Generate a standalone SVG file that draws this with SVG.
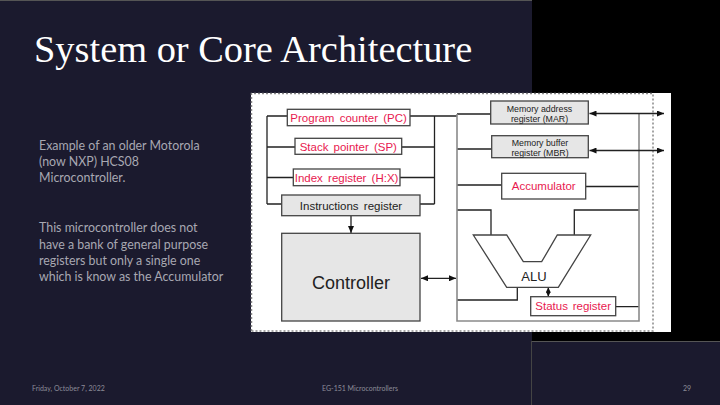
<svg xmlns="http://www.w3.org/2000/svg" width="720" height="405" viewBox="0 0 720 405">
<style>
.box{stroke:#444;stroke-width:1.3}
.w{fill:#fff}
.g{fill:#e6e6e6}
.red{fill:#e8194f;font-family:"Liberation Sans",Arial,sans-serif;font-size:11.5px;text-anchor:middle}
.dk{fill:#222;font-family:"Liberation Sans",Arial,sans-serif;text-anchor:middle}
.ln{stroke:#222;stroke-width:1.3;fill:none}
.bus{stroke:#8a8a8a;stroke-width:1.6;fill:none}
.side{fill:#a8a8b2;font-family:Lato,"Open Sans",sans-serif;font-size:12.4px}
.foot{fill:#8c8c98;font-family:Lato,"Open Sans",sans-serif;font-size:7px}
</style>
<defs>
<marker id="ah" markerUnits="userSpaceOnUse" markerWidth="8" markerHeight="6" refX="7" refY="3" orient="auto-start-reverse">
<path d="M0,0 L7,3 L0,6 z" fill="#111"/>
</marker>
<marker id="ahs" markerUnits="userSpaceOnUse" markerWidth="6" markerHeight="5" refX="5" refY="2.5" orient="auto-start-reverse">
<path d="M0,0 L5,2.5 L0,5 z" fill="#111"/>
</marker>
</defs>
<rect x="0" y="0" width="720" height="405" fill="#1b1a2e"/>
<rect x="532" y="0" width="188" height="341" fill="#000"/>
<line x1="0" y1="0.5" x2="532" y2="0.5" stroke="#555" stroke-width="1"/>
<line x1="531.5" y1="341" x2="531.5" y2="405" stroke="#444" stroke-width="1"/>
<line x1="532" y1="341.5" x2="720" y2="341.5" stroke="#555" stroke-width="1"/>
<g id="title"><text x="34" y="62" fill="#fff" font-family="Liberation Serif,'Times New Roman',serif" font-size="38.4">System or Core Architecture</text></g>
<g id="sidetext">
<text class="side" x="39" y="150">Example of an older Motorola</text>
<text class="side" x="39" y="166">(now NXP) HCS08</text>
<text class="side" x="39" y="182">Microcontroller.</text>
<text class="side" x="39" y="232">This microcontroller does not</text>
<text class="side" x="39" y="248.5">have a bank of general purpose</text>
<text class="side" x="39" y="265">registers but only a single one</text>
<text class="side" x="39" y="281">which is know as the Accumulator</text>
</g>
<g id="footer">
<text class="foot" x="32" y="391">Friday, October 7, 2022</text>
<text class="foot" x="360" y="391" text-anchor="middle">EG-151 Microcontrollers</text>
<text class="foot" x="683" y="391">29</text>
</g>
<g id="picture">
<rect x="251" y="93" width="420" height="239" fill="#fff"/>
<path d="M251.5,331 V93.5 H653 V331 H251.5" fill="none" stroke="#888" stroke-width="1.5" stroke-dasharray="2,2"/>
</g>
<g id="connectors">
<path class="ln" d="M267,116 V204 M267,116 H287 M267,147 H295 M267,177.5 H293 M267,204 H282"/>
<path class="ln" d="M434.5,116 V204 M410,116 H457 M402,147 H434.5 M400,177.5 H434.5 M420,204 H434.5"/>
<path class="ln" d="M457,114 H491 M457,149 H492 M457,185 H502 M586,186.5 H639 M457,210 H491 V235 M639,210 H574.3 V235 M517.3,287.3 V300 H457 M616,306.7 H639"/>
<path class="bus" d="M457,114 V321 H639 V113"/>
<line class="ln" x1="589.5" y1="113.5" x2="664" y2="113.5" marker-start="url(#ah)" marker-end="url(#ah)"/>
<line class="ln" x1="589.5" y1="150.5" x2="664" y2="150.5" marker-start="url(#ah)" marker-end="url(#ah)"/>
<line class="ln" x1="351" y1="216" x2="351" y2="233" marker-end="url(#ah)"/>
<line class="ln" x1="421" y1="278.3" x2="456" y2="278.3" marker-start="url(#ah)" marker-end="url(#ah)"/>
<line class="ln" x1="548.3" y1="287.5" x2="548.3" y2="296.5" marker-start="url(#ahs)" marker-end="url(#ahs)"/>
</g>
<g id="pc"><rect class="box w" x="287.3" y="109.3" width="122.7" height="16.4"/><text class="red" x="348.6" y="121.8" word-spacing="2">Program counter (PC)</text></g>
<g id="sp"><rect class="box w" x="295" y="138.3" width="106.7" height="16"/><text class="red" x="348.3" y="150.6" word-spacing="2">Stack pointer (SP)</text></g>
<g id="ix"><rect class="box w" x="293.3" y="169" width="106.7" height="16.7"/><text class="red" x="346.6" y="181.6" word-spacing="2">Index register (H:X)</text></g>
<g id="ir"><rect class="box g" x="281.7" y="195" width="138.3" height="20.7"/><text class="dk" x="351" y="209.5" font-size="11.5" word-spacing="2">Instructions register</text></g>
<g id="controller"><rect class="box g" x="281.7" y="233.3" width="138.3" height="87.7"/><text class="dk" x="351" y="288.5" font-size="18">Controller</text></g>
<g id="mar"><rect class="box g" x="490.7" y="101" width="97.6" height="23"/><text class="dk" x="539.5" y="111.5" font-size="8.8">Memory address</text><text class="dk" x="539.5" y="122" font-size="8.8">register (MAR)</text></g>
<g id="mbr"><rect class="box g" x="491.7" y="135.7" width="96.6" height="22"/><text class="dk" x="540" y="145.5" font-size="8.8">Memory buffer</text><text class="dk" x="540" y="156.3" font-size="8.8">register (MBR)</text></g>
<g id="acc"><rect class="box w" x="501.7" y="173.3" width="84" height="25.7"/><text class="red" x="543.7" y="190.3" font-size="12">Accumulator</text></g>
<g id="alu"><polygon class="box w" points="473.3,235 506.7,235 523.3,261.7 541.7,261.7 557.3,235 590.7,235 558.3,287.3 506.7,287.3"/><text class="dk" x="534" y="280.5" font-size="13">ALU</text></g>
<g id="status"><rect class="box w" x="530.7" y="296.7" width="85" height="19"/><text class="red" x="573.2" y="310.3" word-spacing="1.5">Status register</text></g>
</svg>
